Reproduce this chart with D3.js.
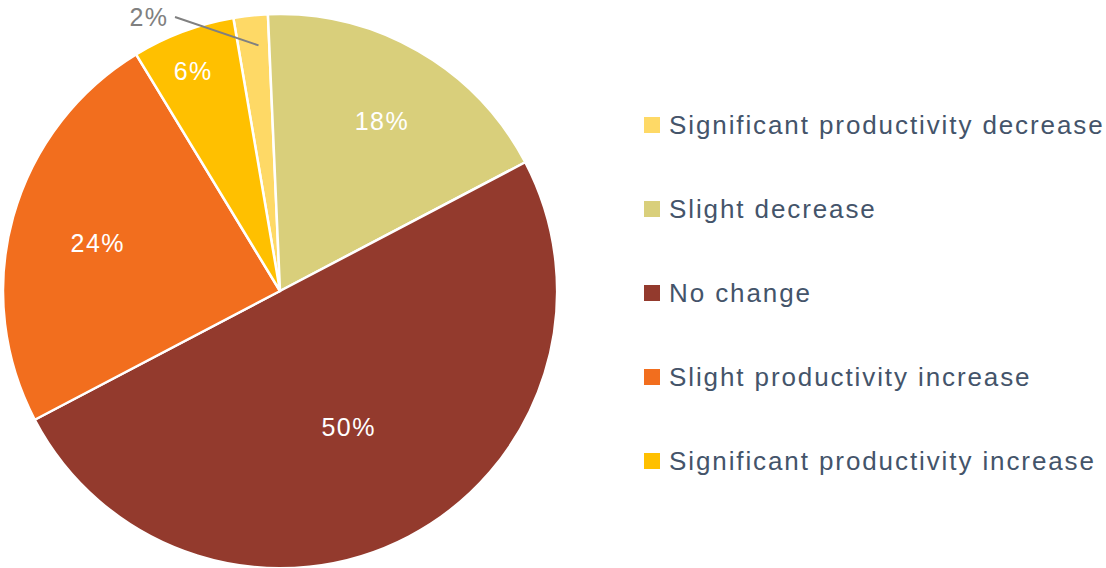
<!DOCTYPE html>
<html>
<head>
<meta charset="utf-8">
<script src="https://cdn.jsdelivr.net/npm/d3@7"></script>
<style>
  html, body { margin: 0; padding: 0; background: #fff; }
  svg { display: block; }
</style>
</head>
<body>
<svg id="chart" width="1106" height="568"></svg>
<script>
const categories = [
  "Significant productivity decrease",
  "Slight decrease",
  "No change",
  "Slight productivity increase",
  "Significant productivity increase"
];
const values = [2, 18, 50, 24, 6];
const labels = ["2%", "18%", "50%", "24%", "6%"];
const colors = ["#FED966", "#D9CF7B", "#933A2D", "#F26E1E", "#FFC000"];

const svg = d3.select("#chart");
const font = "'Liberation Sans', Arial, sans-serif";
const cx = 280, cy = 291, R = 277;
const startDeg = -9.7;

const pie = d3.pie().sort(null).value(d => d)
  .startAngle(startDeg * Math.PI / 180)
  .endAngle((startDeg + 360) * Math.PI / 180);
const arcs = pie(values);
const arc = d3.arc().innerRadius(0).outerRadius(R);

const g = svg.append("g").attr("transform", `translate(${cx},${cy})`);
g.selectAll("path.slice").data(arcs).enter().append("path")
  .attr("class", "slice")
  .attr("d", arc)
  .attr("fill", (d, i) => colors[i])
  .attr("stroke", "#fff")
  .attr("stroke-width", 2.5)
  .attr("stroke-linejoin", "round");

// label radii (fraction of R) for inside labels, as placed in the reference
const labelR = [null, 0.715, 0.55, 0.68, 0.855];
const labelAngleShift = [0, 1.1, 0.9, -0.8, -1.0];
arcs.forEach((d, i) => {
  const mid = (d.startAngle + d.endAngle) / 2;
  if (labelR[i] !== null) {
    const a = mid + labelAngleShift[i] * Math.PI / 180;
    const r = labelR[i] * R;
    g.append("text")
      .attr("x", Math.sin(a) * r)
      .attr("y", -Math.cos(a) * r)
      .attr("text-anchor", "middle")
      .attr("dominant-baseline", "central")
      .attr("font-family", font)
      .attr("font-size", 25)
      .attr("letter-spacing", 1.5)
      .attr("fill", "#fff")
      .text(labels[i]);
  } else {
    // outside label with leader line
    const a = mid + 1.1 * Math.PI / 180;
    const r0 = 0.89 * R;
    const x0 = Math.sin(a) * r0, y0 = -Math.cos(a) * r0;
    const x1 = 175 - cx, y1 = 17 - cy;
    g.append("line")
      .attr("x1", x0).attr("y1", y0)
      .attr("x2", x1).attr("y2", y1)
      .attr("stroke", "#808080")
      .attr("stroke-width", 2);
    g.append("text")
      .attr("x", x1 - 26)
      .attr("y", y1)
      .attr("text-anchor", "middle")
      .attr("dominant-baseline", "central")
      .attr("font-family", font)
      .attr("font-size", 25)
      .attr("letter-spacing", 1.5)
      .attr("fill", "#808080")
      .text(labels[i]);
  }
});

// legend
const legendY = d3.scalePoint().domain(categories).range([125, 461]);
const lg = svg.append("g");
categories.forEach((c, i) => {
  const y = legendY(c);
  lg.append("rect")
    .attr("x", 644).attr("y", y - 8)
    .attr("width", 16).attr("height", 16)
    .attr("fill", colors[i]);
  lg.append("text")
    .attr("x", 669).attr("y", y)
    .attr("dominant-baseline", "central")
    .attr("font-family", font)
    .attr("font-size", 26)
    .attr("letter-spacing", 1.9)
    .attr("fill", "#44546A")
    .text(c);
});
</script>
</body>
</html>
